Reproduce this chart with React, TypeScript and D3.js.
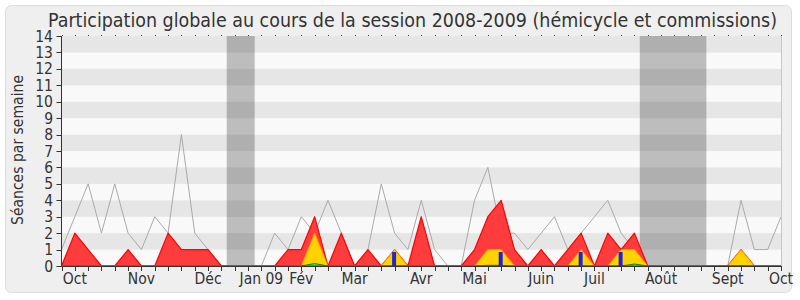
import React from "react";
import * as d3 from "d3";

const title = "Participation globale au cours de la session 2008-2009 (hémicycle et commissions)";
const yTitle = "Séances par semaine";

// weekly values, week index 0..54
const median = [1,3,5,2,5,2,1,3,2,8,2,1,0,0,0,0,2,1,3,2,4,2,0,1,5,2,1,4,1,0,0,4,6,2,2,1,2,3,1,2,3,4,2,1,0,0,0,0,0,0,0,4,1,1,3];
const presences = [0,2,1,0,0,1,0,0,2,1,1,1,0,0,0,0,0,1,1,3,0,2,0,1,0,1,0,3,0,0,0,1,3,4,1,0,1,0,1,2,0,2,1,2,0,0,0,0,0,0,0,1,0,0,0];
const participations = [0,0,0,0,0,0,0,0,0,0,0,0,0,0,0,0,0,0,0,2,0,0,0,0,0,1,0,0,0,0,0,0,1,1,0,0,0,0,0,1,0,0,1,1,0,0,0,0,0,0,0,1,0,0,0];
const mots = [0,0,0,0,0,0,0,0,0,0,0,0,0,0,0,0,0,0,0,0.15,0,0,0,0,0,0,0,0,0,0,0,0,0.04,0.04,0,0,0,0,0,0,0,0,0,0.12,0,0,0,0,0,0,0,0.02,0,0,0];
const questionWeeks = [25, 33, 39, 42];
const questionValues = [0.85, 0.85, 0.85, 0.85];

const monthLabels = ["Oct","Nov","Déc","Jan 09","Fév","Mar","Avr","Mai","Juin","Juil","Août","Sept","Oct"];
const monthWeeks = [1,6,11,15,18,22,27,31,36,40,45,50,54];

const vacStart = [12.4, 43.4];
const vacEnd = [14.5, 48.4];

const yTicks = d3.range(0, 15);

const W = 800, H = 300;
const left = 61.5, right = 781, top = 36, bottom = 266;
const FONT = "'DejaVu Sans Condensed', 'DejaVu Sans', sans-serif";

export default function App() {
  const x = d3.scaleLinear().domain([0, median.length - 1]).range([left, right]);
  const y = d3.scaleLinear().domain([0, 14]).range([bottom, top]);
  const idx = d3.range(median.length);

  const area = (vals: number[]) =>
    d3.area<number>().x((i) => x(i)).y0(y(0)).y1((i) => y(vals[i]))(idx) || "";
  const line = (vals: number[]) =>
    d3.line<number>().x((i) => x(i)).y((i) => y(vals[i]))(idx) || "";

  return (
    <svg width={W} height={H} style={{ position: "absolute", left: 0, top: 0 }}>
      <rect x={0} y={0} width={W} height={H} fill="#ffffff" />
      <rect x={5.5} y={5.5} width={786} height={287} rx={6} fill="#efefef" stroke="#dcdcdc" />
      {/* stripes */}
      {yTicks.slice(0, 14).map((v) => (
        <rect key={v} x={left} y={y(v + 1)} width={right - left} height={y(v) - y(v + 1)}
          fill={v % 2 === 1 ? "#e6e6e6" : "#f9f9f9"} />
      ))}
      {/* vacations */}
      {vacStart.map((s, k) => (
        <rect key={k} x={x(s)} y={top} width={x(vacEnd[k]) - x(s)} height={bottom - top}
          fill="#000" fillOpacity={0.24} />
      ))}
      {/* median line */}
      <path d={line(median)} fill="none" stroke="#aaaaaa" strokeWidth={1} />
      {/* presences */}
      <path d={area(presences)} fill="#ff3c3c" stroke="#ff0000" strokeWidth={1.2} strokeLinejoin="round" />
      {/* participations */}
      <path d={area(participations)} fill="#ffd200" stroke="#ff9a00" strokeWidth={1} strokeLinejoin="round" />
      {/* mots */}
      <path d={area(mots)} fill="#33ee33" stroke="#1a7a1a" strokeWidth={1} />
      {/* questions */}
      {questionWeeks.map((w, k) => (
        <rect key={k} x={x(w) - 2.5} y={y(questionValues[k])} width={4} height={y(0) - y(questionValues[k])} fill="#2222dd" />
      ))}
      {/* right border line */}
      <line x1={right + 0.5} x2={right + 0.5} y1={top} y2={bottom} stroke="#c8c8c8" />
      {/* left axis */}
      <line x1={left} x2={left} y1={top} y2={bottom} stroke="#333" />
      {yTicks.map((v) => (
        <g key={v}>
          <line x1={left - 5} x2={left} y1={Math.round(y(v)) + 0.5} y2={Math.round(y(v)) + 0.5} stroke="#333" />
          <text x={53} y={y(v)} dy="0.36em" textAnchor="end" fontFamily={FONT} fontSize={15.5} fill="#333">{v}</text>
        </g>
      ))}
      {/* bottom axis */}
      <line x1={left} x2={right} y1={bottom + 0.5} y2={bottom + 0.5} stroke="#333" />
      {idx.map((i) => (
        <g key={i}>
          <line x1={Math.round(x(i)) + 0.5} x2={Math.round(x(i)) + 0.5} y1={bottom} y2={bottom + 5} stroke="#333" />
          <rect x={Math.round(x(i))} y={top - 1} width={1} height={1} fill="#444" />
        </g>
      ))}
      {monthLabels.map((m, k) => (
        <text key={k} x={x(monthWeeks[k])} y={284} textAnchor="middle" fontFamily={FONT} fontSize={15.5} fill="#333">{m}</text>
      ))}
      {/* y title */}
      <text transform={`translate(23,150) rotate(-90)`} textAnchor="middle" fontFamily={FONT} fontSize={16} fill="#333"
        textLength={150} lengthAdjust="spacingAndGlyphs">{yTitle}</text>
      {/* title */}
      <text x={48} y={27} fontFamily={FONT} fontSize={19} fill="#333" textLength={729} lengthAdjust="spacingAndGlyphs">{title}</text>
    </svg>
  );
}
